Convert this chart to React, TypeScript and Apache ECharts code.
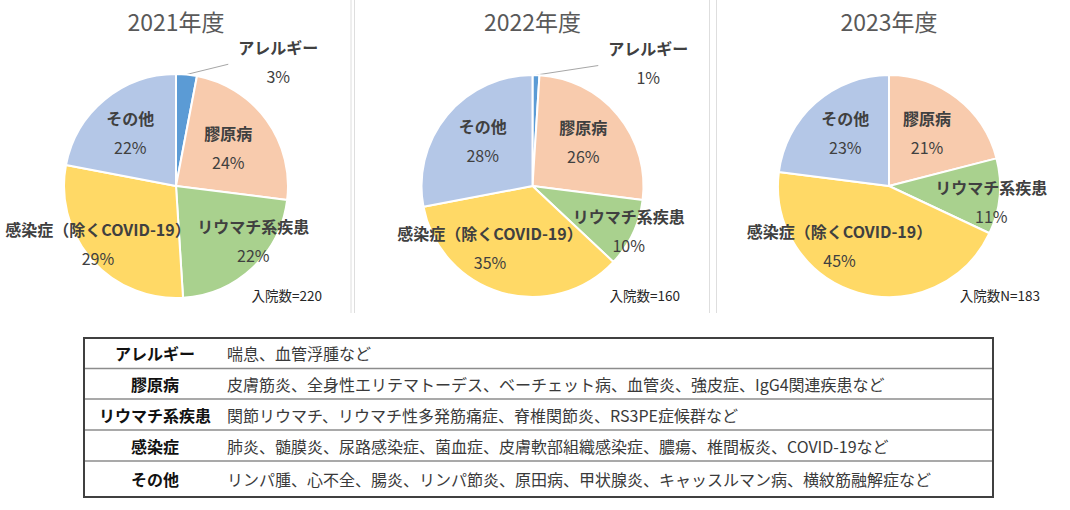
import React, { useEffect, useRef } from "react";
import * as echarts from "echarts";

// ---------- data ----------
const years = ["2021年度", "2022年度", "2023年度"];
const categories = ["アレルギー", "膠原病", "リウマチ系疾患", "感染症（除くCOVID-19）", "その他"];
const values2021 = [3, 24, 22, 29, 22];
const values2022 = [1, 26, 10, 35, 28];
const values2023 = [0, 21, 11, 45, 23];
const admissions = ["入院数=220", "入院数=160", "入院数N=183"];
const tableCategories = ["アレルギー", "膠原病", "リウマチ系疾患", "感染症", "その他"];
const tableExamples = [
  "喘息、血管浮腫など",
  "皮膚筋炎、全身性エリテマトーデス、ベーチェット病、血管炎、強皮症、IgG4関連疾患など",
  "関節リウマチ、リウマチ性多発筋痛症、脊椎関節炎、RS3PE症候群など",
  "肺炎、髄膜炎、尿路感染症、菌血症、皮膚軟部組織感染症、膿瘍、椎間板炎、COVID-19など",
  "リンパ腫、心不全、腸炎、リンパ節炎、原田病、甲状腺炎、キャッスルマン病、横紋筋融解症など",
];

// ---------- styles / layout ----------
const FONT = "'Noto Sans CJK JP', 'Noto Sans', sans-serif";
const COLORS = ["#5B9BD5", "#F8CBAD", "#A9D18E", "#FFD966", "#B4C7E7"];
const PIES = [
  { cx: 176, cy: 186, r: 112 },
  { cx: 532.5, cy: 186, r: 111 },
  { cx: 889, cy: 186, r: 111 },
];
// label shifts (px) from the default "inside" position, per pie / category
const LABEL_SHIFT = [
  [[97, -69], [7, -6], [39, 14], [-36, 20], [-10, -10]],
  [[114, -68], [8, -9], [46, 21], [-27, 8], [-7, -10]],
  [[0, 0], [4, -10], [47, 10], [-34, 6], [-7, -12]],
];
const TABLE = { x: 84, y: 338, w: 909, rowH: [30.5, 30.5, 31, 31, 36], col1: 155, col2: 227 };

const App: React.FC = () => {
  const ref = useRef<HTMLDivElement>(null);

  useEffect(() => {
    if (!ref.current) return;
    const chart = echarts.init(ref.current, undefined, { renderer: "svg" });
    const allValues = [values2021, values2022, values2023];

    const series: any[] = allValues.map((vals, pi) => {
      const p = PIES[pi];
      const total = vals.reduce((a, b) => a + b, 0);
      const mids: number[] = [];
      let acc = 0;
      vals.forEach((v) => {
        mids.push(((acc + v / 2) / total) * Math.PI * 2);
        acc += v;
      });
      return {
        type: "pie",
        center: [p.cx, p.cy],
        radius: [0, p.r],
        startAngle: 90,
        clockwise: true,
        avoidLabelOverlap: false,
        silent: true,
        emphasis: { disabled: true },
        itemStyle: { borderColor: "#ffffff", borderWidth: 2 },
        label: {
          show: true,
          position: "inside",
          color: "#404040",
          fontFamily: FONT,
          textBorderWidth: 0,
          formatter: (prm: any) => `{n|${prm.name}}\n{p|${prm.value}%}`,
          rich: {
            n: { fontSize: 16, fontWeight: "bold", color: "#404040", fontFamily: FONT, lineHeight: 29 },
            p: { fontSize: 16, fontWeight: "normal", color: "#404040", fontFamily: FONT, lineHeight: 29 },
          },
        },
        labelLine: { show: false },
        labelLayout: (prm: any) => {
          const i = prm.dataIndex;
          const a = mids[i];
          const sh = LABEL_SHIFT[pi][i];
          const x = p.cx + 0.5 * p.r * Math.sin(a) + sh[0];
          const y = p.cy - 0.5 * p.r * Math.cos(a) + sh[1];
          const out: any = { x, y, align: "center", verticalAlign: "middle", hideOverlap: false };
          if (i === 0) {
            out.labelLinePoints = [
              [p.cx + p.r * Math.sin(a), p.cy - p.r * Math.cos(a)],
              [x - 50, y + 3],
            ];
          }
          return out;
        },
        data: vals.map((v, j) => {
          const item: any = { name: categories[j], value: v, itemStyle: { color: COLORS[j] } };
          if (j === 0) {
            if (v > 0) {
              item.label = { position: "outside" };
              item.labelLine = { show: true, length: 5, length2: 30, lineStyle: { color: "#A6A6A6", width: 1 } };
            } else {
              item.label = { show: false };
              item.labelLine = { show: false };
            }
          }
          return item;
        }),
      };
    });

    const graphic: any[] = [];
    // panel separators
    [351, 354.5, 709.5, 716.5].forEach((x) =>
      graphic.push({
        type: "line",
        silent: true,
        shape: { x1: x, y1: 0, x2: x, y2: 313 },
        style: { stroke: "#DEDEDE", lineWidth: 1 },
      })
    );
    // titles and admissions counts
    years.forEach((t, i) => {
      graphic.push({
        type: "text",
        x: PIES[i].cx,
        y: 21,
        style: {
          text: t,
          fill: "#595959",
          font: `normal 23px ${FONT}`,
          textAlign: "center",
          textVerticalAlign: "middle",
        },
      });
    });
    const admRight = [322, 680, 1040];
    admissions.forEach((t, i) => {
      graphic.push({
        type: "text",
        x: admRight[i],
        y: 295,
        style: {
          text: t,
          fill: "#262626",
          font: `normal 13.5px ${FONT}`,
          textAlign: "right",
          textVerticalAlign: "middle",
        },
      });
    });
    // table
    const totalH = TABLE.rowH.reduce((a, b) => a + b, 0);
    let yy = TABLE.y;
    TABLE.rowH.forEach((h, i) => {
      if (i > 0) {
        graphic.push({
          type: "line",
          silent: true,
          shape: { x1: TABLE.x, y1: yy, x2: TABLE.x + TABLE.w, y2: yy },
          style: { stroke: "#8C8C8C", lineWidth: 1.5 },
        });
      }
      const mid = yy + h / 2;
      graphic.push({
        type: "text",
        x: TABLE.col1,
        y: mid,
        style: {
          text: tableCategories[i],
          fill: "#111111",
          font: `bold 16px ${FONT}`,
          textAlign: "center",
          textVerticalAlign: "middle",
        },
      });
      graphic.push({
        type: "text",
        x: TABLE.col2,
        y: mid,
        style: {
          text: tableExamples[i],
          fill: "#3A3A3A",
          font: `normal 16px ${FONT}`,
          textAlign: "left",
          textVerticalAlign: "middle",
        },
      });
      yy += h;
    });
    graphic.push({
      type: "rect",
      silent: true,
      shape: { x: TABLE.x, y: TABLE.y, width: TABLE.w, height: totalH },
      style: { fill: "none", stroke: "#404040", lineWidth: 2 },
    });

    chart.setOption({
      animation: false,
      backgroundColor: "#ffffff",
      textStyle: { fontFamily: FONT },
      series,
      graphic,
    });

    return () => chart.dispose();
  }, []);

  return (
    <div
      ref={ref}
      style={{ position: "absolute", left: 0, top: 0, width: 1070, height: 510 }}
    />
  );
};

export default App;
